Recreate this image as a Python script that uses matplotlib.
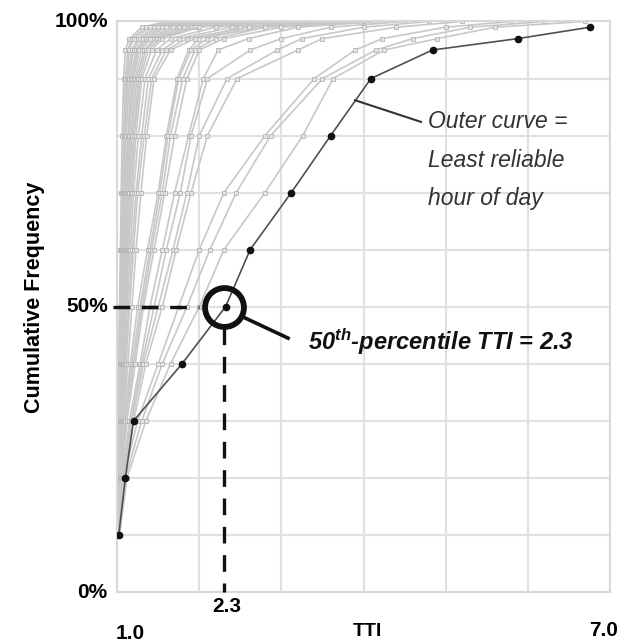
import numpy as np
import matplotlib
matplotlib.use("Agg")
import matplotlib.pyplot as plt

plt.rcParams['font.family'] = ['Liberation Sans', 'DejaVu Sans']
plt.rcParams['mathtext.fontset'] = 'custom'
plt.rcParams['mathtext.rm'] = 'Liberation Sans:italic:bold'
plt.rcParams['mathtext.it'] = 'Liberation Sans:italic:bold'

# cumulative frequency levels at which each hourly curve has a marker
levels = [0.10, 0.20, 0.30, 0.40, 0.50, 0.60, 0.70, 0.80, 0.90, 0.95, 0.97, 0.99, 1.00]

# TTI at each level, one row per hour of day
gray_curves = [
    [0.99, 1.00, 1.01, 1.02, 1.03, 1.04, 1.05, 1.06, 1.08, 1.10, 1.15, 1.30, 1.60],
    [1.00, 1.00, 1.01, 1.02, 1.03, 1.05, 1.06, 1.08, 1.10, 1.13, 1.18, 1.35, 1.70],
    [1.00, 1.01, 1.02, 1.03, 1.04, 1.05, 1.07, 1.09, 1.12, 1.15, 1.20, 1.40, 1.80],
    [1.00, 1.01, 1.02, 1.03, 1.05, 1.06, 1.08, 1.10, 1.13, 1.18, 1.25, 1.45, 1.90],
    [1.00, 1.01, 1.02, 1.04, 1.05, 1.07, 1.09, 1.11, 1.15, 1.20, 1.28, 1.50, 2.00],
    [1.00, 1.01, 1.03, 1.04, 1.06, 1.08, 1.10, 1.13, 1.17, 1.23, 1.32, 1.55, 2.10],
    [1.00, 1.02, 1.03, 1.05, 1.07, 1.09, 1.11, 1.14, 1.18, 1.25, 1.35, 1.60, 2.20],
    [1.00, 1.02, 1.03, 1.05, 1.07, 1.10, 1.12, 1.15, 1.20, 1.27, 1.38, 1.68, 2.30],
    [1.00, 1.02, 1.04, 1.06, 1.08, 1.10, 1.13, 1.17, 1.22, 1.30, 1.40, 1.75, 2.40],
    [1.00, 1.02, 1.04, 1.06, 1.09, 1.11, 1.14, 1.18, 1.24, 1.33, 1.45, 1.82, 2.50],
    [1.00, 1.02, 1.04, 1.07, 1.09, 1.12, 1.15, 1.20, 1.26, 1.35, 1.48, 1.90, 2.60],
    [1.01, 1.03, 1.05, 1.07, 1.10, 1.13, 1.17, 1.21, 1.28, 1.38, 1.52, 1.95, 2.75],
    [1.01, 1.03, 1.05, 1.08, 1.11, 1.14, 1.18, 1.23, 1.30, 1.42, 1.55, 2.00, 2.90],
    [1.01, 1.03, 1.06, 1.09, 1.12, 1.16, 1.20, 1.26, 1.34, 1.48, 1.65, 2.20, 3.10],
    [1.01, 1.03, 1.06, 1.10, 1.14, 1.18, 1.23, 1.30, 1.38, 1.55, 1.75, 2.40, 3.40],
    [1.01, 1.04, 1.07, 1.11, 1.15, 1.20, 1.25, 1.33, 1.42, 1.60, 1.85, 2.60, 3.70],
    [1.01, 1.04, 1.08, 1.13, 1.18, 1.23, 1.29, 1.36, 1.45, 1.65, 1.95, 2.80, 4.00],
    [1.01, 1.04, 1.09, 1.16, 1.25, 1.37, 1.50, 1.60, 1.73, 1.87, 2.00, 2.50, 3.30],
    [1.01, 1.04, 1.10, 1.18, 1.28, 1.40, 1.52, 1.62, 1.75, 1.90, 2.10, 2.60, 3.50],
    [1.01, 1.05, 1.10, 1.20, 1.30, 1.42, 1.55, 1.65, 1.80, 1.95, 2.20, 2.80, 3.80],
    [1.01, 1.05, 1.12, 1.22, 1.32, 1.45, 1.58, 1.70, 1.85, 2.00, 2.30, 3.00, 4.00],
    [1.02, 1.06, 1.15, 1.28, 1.40, 1.55, 1.70, 1.87, 2.05, 2.23, 2.60, 3.20, 4.20],
    [1.02, 1.06, 1.17, 1.30, 1.45, 1.60, 1.77, 1.90, 2.10, 2.62, 3.00, 3.60, 4.50],
    [1.02, 1.07, 1.18, 1.32, 1.50, 1.68, 1.85, 2.00, 2.34, 2.95, 3.25, 4.00, 4.80],
    [1.02, 1.08, 1.20, 1.35, 1.55, 1.72, 1.90, 2.10, 2.46, 3.20, 3.50, 4.40, 5.20],
    [1.02, 1.08, 1.25, 1.50, 1.75, 2.00, 2.30, 2.80, 3.40, 3.90, 4.23, 5.00, 5.80],
    [1.02, 1.10, 1.30, 1.55, 1.85, 2.13, 2.45, 2.87, 3.50, 4.15, 4.60, 5.30, 6.20],
    [1.03, 1.12, 1.35, 1.65, 2.00, 2.30, 2.80, 3.26, 3.63, 4.25, 4.90, 5.60, 6.70],
]

# least reliable hour of day
worst_curve = [1.02, 1.10, 1.20, 1.79, 2.32, 2.62, 3.12, 3.60, 4.09, 4.84, 5.88, 6.76, np.nan]

median_tti = 2.3

fig = plt.figure(figsize=(6.23, 6.43), dpi=100)
ax = fig.add_axes([0.188, 0.0793, 0.791, 0.8873])

for tti in gray_curves:
    ax.plot(tti, levels, color='#c8c8c8', lw=1.2, marker='s', ms=3.5,
            mfc='#e4e4e4', mec='#b4b4b4', mew=0.6, zorder=2)

ax.plot(worst_curve, levels, color='#505050', lw=1.2, marker='o', ms=4.5,
        mfc='#111111', mec='#111111', zorder=4)

ax.set_xlim(1.0, 7.0)
ax.set_ylim(0, 1.0)
ax.set_xticks(np.arange(1, 8))
ax.set_yticks(np.arange(0, 1.01, 0.1))
ax.grid(True, color='#e0e0e0', lw=1.5, zorder=0)
ax.set_axisbelow(True)
for s in ax.spines.values():
    s.set_color('#d8d8d8')
    s.set_linewidth(1.5)
ax.tick_params(length=0, labelbottom=False, labelleft=False)

# axis texts
for yv, lab in [(0.0, '0%'), (0.5, '50%'), (1.0, '100%')]:
    ax.text(0.885, yv, lab, ha='right', va='center', fontsize=15,
            fontweight='bold', clip_on=False)
ax.text(1.16, -0.072, '1.0', ha='center', va='center', fontsize=15,
        fontweight='bold', clip_on=False)
ax.text(6.92, -0.068, '7.0', ha='center', va='center', fontsize=15,
        fontweight='bold', clip_on=False)
ax.text(median_tti + 0.04, -0.025, '2.3', ha='center', va='center', fontsize=15,
        fontweight='bold', clip_on=False)
ax.text(4.05, -0.084, 'TTI', ha='center', va='bottom', fontsize=14,
        fontweight='bold', clip_on=False)
fig.text(0.056, 0.538, 'Cumulative Frequency', rotation=90, ha='center', va='center',
         fontsize=15.5, fontweight='bold')

# 50th percentile callout
ax.plot([0.95, 2.0], [0.5, 0.5], color='#111111', lw=2.4, dashes=(5, 3.5),
        clip_on=False, zorder=5)
ax.plot([median_tti, median_tti], [0.462, 0.0], color='#111111', lw=2.4,
        dashes=(5, 3.5), clip_on=False, zorder=5)
ax.plot([median_tti], [0.5], 'o', ms=28, mfc='none', mec='#111111', mew=4.2, zorder=6)
ax.plot([2.533, 3.081], [0.482, 0.445], color='#111111', lw=2.6, zorder=6)
ax.text(3.32, 0.424, r'50$^{\mathrm{th}}$-percentile TTI = 2.3', ha='left',
        va='baseline', fontsize=17, fontweight='bold', fontstyle='italic', color='#111111')

# outer curve callout
ax.plot([3.896, 4.70], [0.862, 0.824], color='#333333', lw=1.5, zorder=6)
ax.text(4.785, 0.757, 'Outer curve =\nLeast reliable\nhour of day', ha='left',
        va='center', fontsize=16.5, fontstyle='italic', color='#333333',
        linespacing=1.85)

fig.savefig('out.png', dpi=100)
